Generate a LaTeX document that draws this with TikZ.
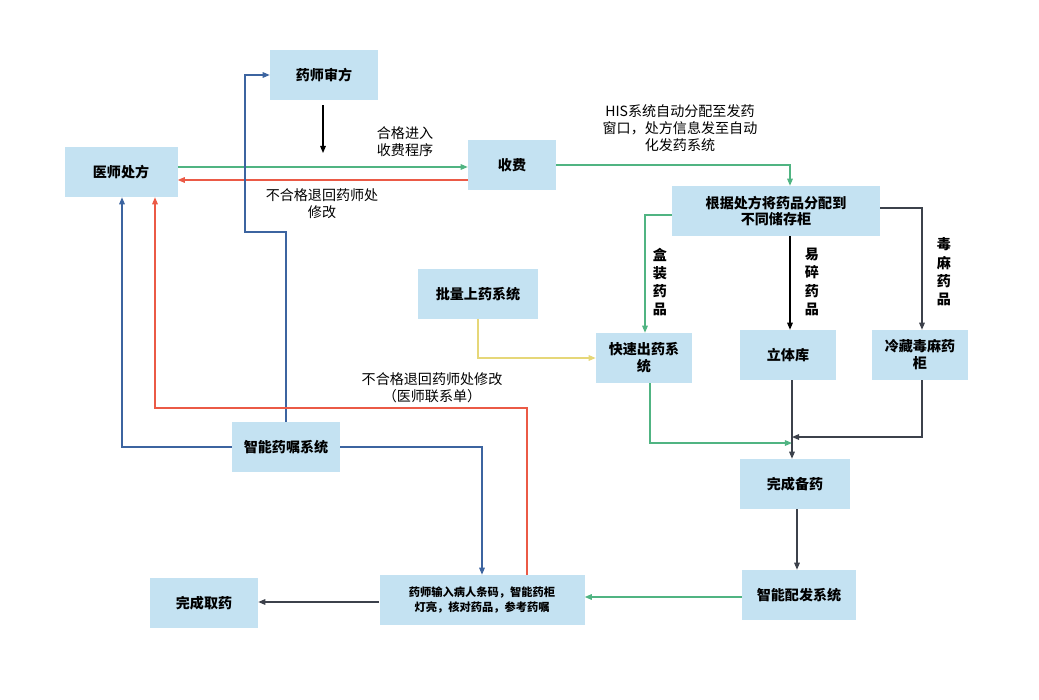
\documentclass[tikz,border=0pt]{standalone}
\usepackage{fontspec}
\setmainfont{Noto Sans CJK SC}
\usetikzlibrary{arrows.meta}
\definecolor{boxc}{RGB}{196,226,242}
\definecolor{gr}{RGB}{80,180,130}
\definecolor{rd}{RGB}{235,90,70}
\definecolor{bl}{RGB}{60,100,160}
\definecolor{dk}{RGB}{60,65,75}
\definecolor{yl}{RGB}{230,215,120}
\begin{document}
\begin{tikzpicture}[x=0.025cm,y=-0.025cm,
 box/.style={fill=boxc,minimum width=#1*0.025cm,minimum height=1.25cm,font=\bfseries\fontsize{10}{12}\selectfont,align=center,inner sep=1pt},
 box/.default=108,
 lab/.style={font=\fontsize{10}{12}\selectfont,align=center},
 ar/.style={-{Triangle[length=5pt,width=4pt]},line width=0.8pt}]
\useasboundingbox (0,0) rectangle (1039,699);
\node[box=113] (ys) at (121,172) {医师处方};
\node[box] (sf) at (324,75) {药师审方};
\node[box=88] (shou) at (512,165) {收费};
\node[box=208] (gj) at (776,211) {根据处方将药品分配到\\不同储存柜};
\node[box=120] (pl) at (478,294) {批量上药系统};
\node[box=96] (ks) at (644,358) {快速出药系\\统};
\node[box=96] (lt) at (788,355) {立体库};
\node[box=96] (lc) at (920,355) {冷藏毒麻药\\柜};
\node[box=110] (wb) at (795,484) {完成备药};
\node[box] (zn) at (286,447) {智能药嘱系统};
\node[box=205,font=\bfseries\fontsize{8}{11}\selectfont] (sr) at (482,600) {药师输入病人条码，智能药柜\\灯亮，核对药品，参考药嘱};
\node[box] (wq) at (204,603) {完成取药};
\node[box=114] (pf) at (799,595) {智能配发系统};
\coordinate (a1) at (323,105); \coordinate (a2) at (323,153);
\draw[ar,black] (a1) -- (a2);
\draw[ar,gr] (ys.east|-0,167) -- (shou.west|-0,167);
\draw[ar,rd] (shou.west|-0,180) -- (ys.east|-0,180);
\draw[ar,bl] (zn.north) -- (286,232) -- (245,232) -- (245,75) -- (sf.west);
\draw[ar,bl] (zn.west) -- (122,447) -- (ys.south-|122,0);
\draw[ar,rd] (sr.north-|527,0) -- (527,408) -- (155,408) -- (ys.south-|155,0);
\draw[ar,bl] (zn.east) -- (482,447) -- (sr.north-|482,0);
\draw[ar,gr] (shou.east) -- (790,165) -- (gj.north-|790,0);
\draw[ar,gr] (gj.west|-0,215) -- (645,215) -- (ks.north-|645,0);
\draw[ar,black] (gj.south-|790,0) -- (lt.north-|790,0);
\draw[ar,dk] (gj.east|-0,208) -- (922,208) -- (lc.north-|922,0);
\draw[ar,yl] (pl.south) -- (478,358) -- (ks.west);
\draw[ar,gr] (ks.south-|650,0) -- (650,443) -- (792,443);
\draw[ar,dk] (lt.south-|792,0) -- (wb.north-|792,0);
\draw[ar,dk] (lc.south-|922,0) -- (922,437) -- (792,437);
\draw[ar,dk] (wb.south-|797,0) -- (pf.north-|797,0);
\draw[ar,gr] (pf.west|-0,597) -- (sr.east|-0,597);
\draw[ar,dk] (sr.west|-0,602) -- (wq.east|-0,602);
\node[lab] (l1) at (405,142) {合格进入\\收费程序};
\node[lab] (l2) at (322,204) {不合格退回药师处\\修改};
\node[lab] (l3) at (680,128) {HIS系统自动分配至发药\\窗口，处方信息发至自动\\化发药系统};
\node[lab,font=\bfseries\fontsize{10}{13}\selectfont] (l4) at (660,282) {盒\\装\\药\\品};
\node[lab,font=\bfseries\fontsize{10}{13}\selectfont] (l5) at (812,282) {易\\碎\\药\\品};
\node[lab,font=\bfseries\fontsize{10}{13}\selectfont] (l6) at (944,272) {毒\\麻\\药\\品};
\node[lab] (l7) at (432,388) {不合格退回药师处修改\\（医师联系单）};
\end{tikzpicture}
\end{document}
